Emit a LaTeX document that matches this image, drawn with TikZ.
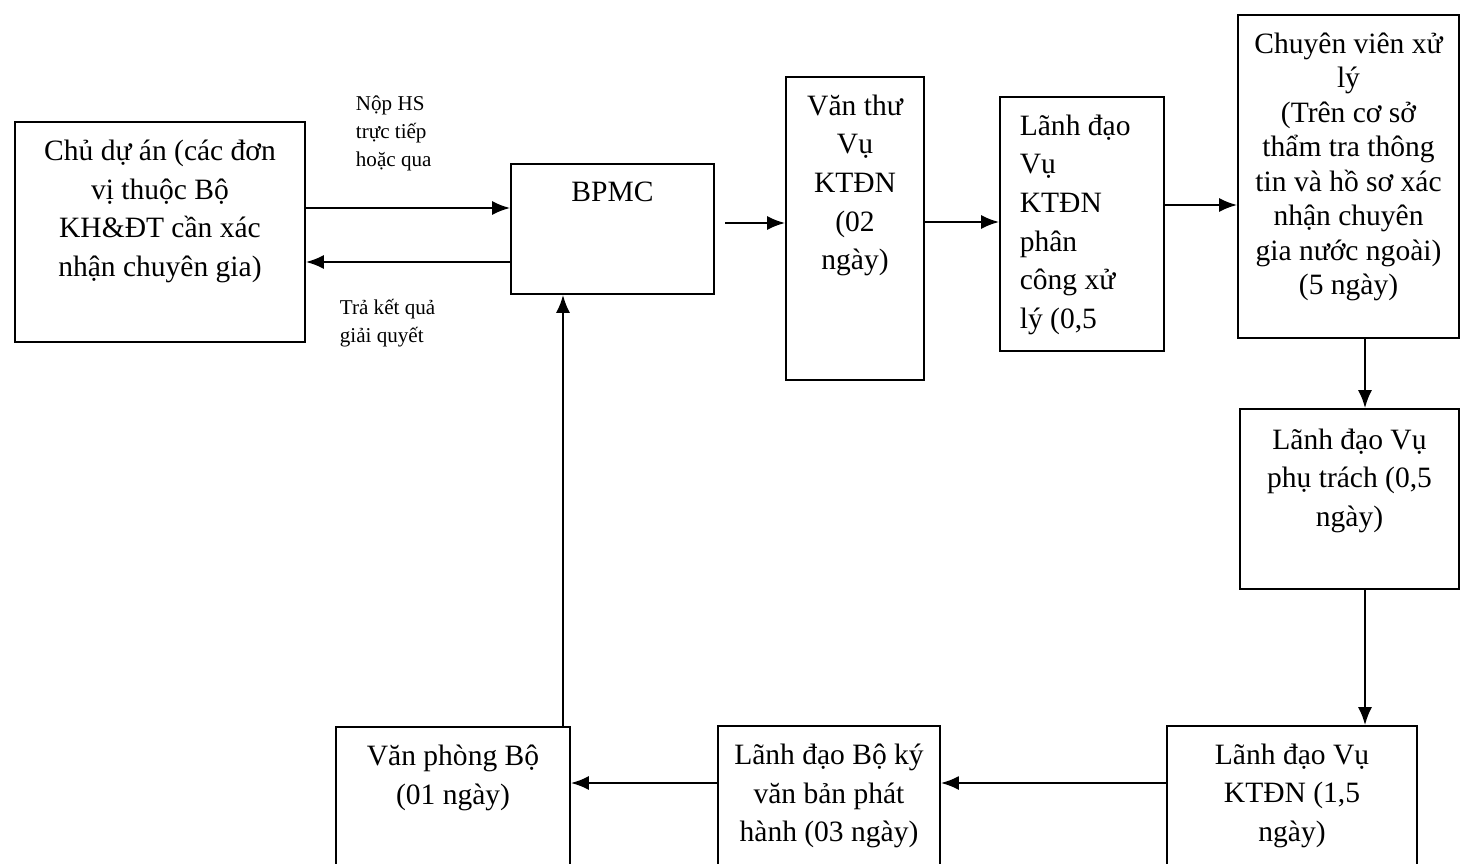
\documentclass[tikz,border=0pt]{standalone}
\usepackage{fontspec}
\setmainfont{Liberation Serif}
\usetikzlibrary{arrows.meta}

\begin{document}
\begin{tikzpicture}[
  box/.style={rectangle, draw, line width=0.5pt, inner sep=0pt},
  txt/.style={font=\fontsize{8.4}{11}\selectfont, align=center, inner sep=0pt},
  lab/.style={font=\fontsize{6}{8}\selectfont, align=left, inner sep=0pt},
  arr/.style={line width=0.6pt, -{Latex[length=1.8mm, width=1.4mm]}},
]
\useasboundingbox (0,0) rectangle (14.61,-8.63);
\clip (0,0) rectangle (14.61,-8.63);
\node[box, minimum width=2.90cm, minimum height=2.20cm,
      label={[txt, anchor=north, yshift=-0.18cm]north:{Chủ dự án (các đơn\\vị thuộc Bộ\\KH\&ĐT cần xác\\nhận chuyên gia)}}]
      (chuduan) at (1.60,-2.32) {};
\node[box, minimum width=2.03cm, minimum height=1.30cm,
      label={[txt, anchor=north, yshift=-0.18cm]north:{BPMC}}]
      (bpmc) at (6.125,-2.29) {};
\node[box, minimum width=1.38cm, minimum height=3.03cm,
      label={[txt, anchor=north, yshift=-0.18cm]north:{Văn thư\\Vụ\\KTĐN\\(02\\ngày)}}]
      (vanthu) at (8.55,-2.285) {};
\node[box, minimum width=1.64cm, minimum height=2.54cm,
      label={[txt, align=left, anchor=north west, xshift=0.2cm, yshift=-0.18cm]north west:{Lãnh đạo\\Vụ\\KTĐN\\phân\\công xử\\lý (0,5}}]
      (phancong) at (10.82,-2.24) {};
\node[box, minimum width=2.21cm, minimum height=3.23cm,
      label={[txt, font=\fontsize{8.4}{9.8}\selectfont, anchor=north, yshift=-0.18cm]north:{Chuyên viên xử\\lý\\(Trên cơ sở\\thẩm tra thông\\tin và hồ sơ xác\\nhận chuyên\\gia nước ngoài)\\(5 ngày)}}]
      (chuyenvien) at (13.485,-1.765) {};
\node[box, minimum width=2.19cm, minimum height=1.80cm,
      label={[txt, anchor=north, yshift=-0.2cm]north:{Lãnh đạo Vụ\\phụ trách (0,5\\ngày)}}]
      (phutrach) at (13.495,-4.99) {};
\node[box, minimum width=2.50cm, minimum height=1.74cm,
      label={[txt, anchor=north, yshift=-0.18cm]north:{Lãnh đạo Vụ\\KTĐN (1,5\\ngày)}}]
      (lanhdaovu) at (12.92,-8.13) {};
\node[box, minimum width=2.22cm, minimum height=1.74cm,
      label={[txt, anchor=north, yshift=-0.18cm]north:{Lãnh đạo Bộ ký\\văn bản phát\\hành (03 ngày)}}]
      (lanhdaobo) at (8.29,-8.13) {};
\node[box, minimum width=2.34cm, minimum height=1.74cm,
      label={[txt, anchor=north, yshift=-0.18cm]north:{Văn phòng Bộ\\(01 ngày)}}]
      (vanphong) at (4.53,-8.14) {};
\coordinate (vao) at (7.25,-2.23);
% nop ho so va tra ket qua
\draw[arr] (chuduan.east |- 0,-2.08) -- node[pos=0.43, above=0.36cm, lab] {Nộp HS\\trực tiếp\\hoặc qua} (bpmc.west |- 0,-2.08);
\draw[arr] (bpmc.west |- 0,-2.62) -- node[pos=0.6, below=0.36cm, lab] {Trả kết quả\\giải quyết} (chuduan.east |- 0,-2.62);
\draw[arr] (vao) -- (vanthu.west |- vao);
\draw[arr] (vanthu.east |- 0,-2.22) -- (phancong.west |- 0,-2.22);
\draw[arr] (phancong.east |- 0,-2.05) -- (chuyenvien.west |- 0,-2.05);
\draw[arr] (chuyenvien.south -| 13.65,0) -- (phutrach.north -| 13.65,0);
\draw[arr] (phutrach.south -| 13.65,0) -- (lanhdaovu.north -| 13.65,0);
\draw[arr] (lanhdaovu.west |- 0,-7.83) -- (lanhdaobo.east |- 0,-7.83);
\draw[arr] (lanhdaobo.west |- 0,-7.83) -- (vanphong.east |- 0,-7.83);
\draw[arr] (vanphong.north -| 5.63,0) -- (bpmc.south -| 5.63,0);
\end{tikzpicture}
\end{document}
